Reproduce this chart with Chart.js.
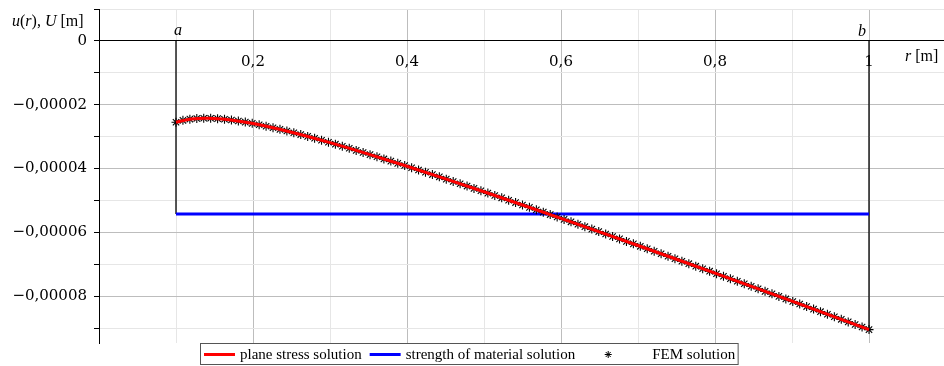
<!DOCTYPE html>
<html>
<head>
<meta charset="utf-8">
<script src="https://cdn.jsdelivr.net/npm/chart.js"></script>
<style>
    html, body { margin: 0; padding: 0; background: #fff; }
    canvas { display: block; }
</style>
</head>
<body>
<canvas id="grafico" width="944" height="366"></canvas>
<script>
// raio r [m] e deslocamento u(r) [m]
const rCurve = [0.10, 0.12, 0.14, 0.16, 0.18, 0.20, 0.25, 0.30, 0.35, 0.40, 0.45,
    0.50, 0.55, 0.60, 0.65, 0.70, 0.75, 0.80, 0.85, 0.90, 0.95, 1.00];
const uPlaneStress = [-2.550e-5, -2.446e-5, -2.422e-5, -2.448e-5, -2.508e-5, -2.590e-5,
    -2.862e-5, -3.189e-5, -3.550e-5, -3.930e-5, -4.325e-5, -4.730e-5, -5.143e-5,
    -5.562e-5, -5.985e-5, -6.413e-5, -6.845e-5, -7.280e-5, -7.718e-5, -8.160e-5,
    -8.604e-5, -9.050e-5];

// solução de resistência dos materiais (constante)
const rSom = [0.10, 1.00];
const uSom = [-5.43e-5, -5.43e-5];

// nós do MEF
const rFem = [0.100, 0.109, 0.118, 0.127, 0.136, 0.145, 0.154, 0.163, 0.172, 0.181,
    0.190, 0.199, 0.208, 0.217, 0.226, 0.235, 0.244, 0.253, 0.262, 0.271,
    0.280, 0.289, 0.298, 0.307, 0.316, 0.325, 0.334, 0.343, 0.352, 0.361,
    0.370, 0.379, 0.388, 0.397, 0.406, 0.415, 0.424, 0.433, 0.442, 0.451,
    0.460, 0.469, 0.478, 0.487, 0.496, 0.505, 0.514, 0.523, 0.532, 0.541,
    0.550, 0.559, 0.568, 0.577, 0.586, 0.595, 0.604, 0.613, 0.622, 0.631,
    0.640, 0.649, 0.658, 0.667, 0.676, 0.685, 0.694, 0.703, 0.712, 0.721,
    0.730, 0.739, 0.748, 0.757, 0.766, 0.775, 0.784, 0.793, 0.802, 0.811,
    0.820, 0.829, 0.838, 0.847, 0.856, 0.865, 0.874, 0.883, 0.892, 0.901,
    0.910, 0.919, 0.928, 0.937, 0.946, 0.955, 0.964, 0.973, 0.982, 0.991, 1.000];
const uFem = [-2.550e-5, -2.491e-5, -2.453e-5, -2.431e-5, -2.423e-5, -2.425e-5, -2.437e-5, -2.455e-5, -2.481e-5, -2.511e-5,
    -2.546e-5, -2.585e-5, -2.628e-5, -2.674e-5, -2.722e-5, -2.773e-5, -2.825e-5, -2.880e-5, -2.936e-5, -2.994e-5,
    -3.053e-5, -3.114e-5, -3.176e-5, -3.238e-5, -3.302e-5, -3.366e-5, -3.432e-5, -3.498e-5, -3.565e-5, -3.632e-5,
    -3.700e-5, -3.768e-5, -3.838e-5, -3.907e-5, -3.977e-5, -4.048e-5, -4.118e-5, -4.190e-5, -4.261e-5, -4.333e-5,
    -4.406e-5, -4.478e-5, -4.551e-5, -4.624e-5, -4.698e-5, -4.771e-5, -4.845e-5, -4.919e-5, -4.994e-5, -5.068e-5,
    -5.143e-5, -5.218e-5, -5.293e-5, -5.368e-5, -5.444e-5, -5.519e-5, -5.595e-5, -5.671e-5, -5.747e-5, -5.824e-5,
    -5.900e-5, -5.977e-5, -6.054e-5, -6.130e-5, -6.207e-5, -6.285e-5, -6.362e-5, -6.439e-5, -6.517e-5, -6.594e-5,
    -6.672e-5, -6.750e-5, -6.828e-5, -6.906e-5, -6.984e-5, -7.062e-5, -7.141e-5, -7.219e-5, -7.298e-5, -7.376e-5,
    -7.455e-5, -7.534e-5, -7.613e-5, -7.692e-5, -7.771e-5, -7.851e-5, -7.930e-5, -8.009e-5, -8.089e-5, -8.169e-5,
    -8.248e-5, -8.328e-5, -8.408e-5, -8.488e-5, -8.568e-5, -8.648e-5, -8.728e-5, -8.809e-5, -8.889e-5, -8.970e-5, -9.050e-5];

// raios interno (a) e externo (b)
const rBounds = [0.10, 1.00];
const boundLabels = ["a", "b"];

const seriesLabels = ["plane stress solution", "strength of material solution", "FEM solution"];

// marcas dos eixos
const xTicks = [0.1, 0.2, 0.3, 0.4, 0.5, 0.6, 0.7, 0.8, 0.9, 1.0];
const xTickLabels = ["", "0,2", "", "0,4", "", "0,6", "", "0,8", "", "1"];
const yTicks = [0.00001, 0, -0.00001, -0.00002, -0.00003, -0.00004, -0.00005,
    -0.00006, -0.00007, -0.00008, -0.00009];
const yTickLabels = ["", "0", "", "\u22120,00002", "", "\u22120,00004", "",
    "\u22120,00006", "", "\u22120,00008", ""];

const SERIF = '"Liberation Serif", "Times New Roman", serif';
const NUM = '"DejaVu Serif", serif';

function pares(xs, ys) {
    return xs.map((x, i) => ({ x: x, y: ys[i] }));
}

// títulos, rótulos a/b e legenda em caixa
const rotulos = {
    id: "rotulos",
    afterDraw(chart) {
        const ctx = chart.ctx;
        const xs = chart.scales.x;
        ctx.save();
        ctx.fillStyle = "#000";
        ctx.textBaseline = "alphabetic";

        // título do eixo y: u(r), U [m]
        let x = 12;
        const partes = [["u", true], ["(", false], ["r", true], ["), ", false], ["U", true], [" [m]", false]];
        partes.forEach(p => {
            ctx.font = (p[1] ? "italic " : "") + "16px " + SERIF;
            ctx.fillText(p[0], x, 26);
            x += ctx.measureText(p[0]).width;
        });

        // título do eixo x: r [m]
        ctx.font = "italic 16px " + SERIF;
        ctx.fillText("r", 905, 61);
        let w = ctx.measureText("r").width;
        ctx.font = "16px " + SERIF;
        ctx.fillText(" [m]", 905 + w, 61);

        // a e b
        ctx.font = "italic 16px " + SERIF;
        ctx.textAlign = "center";
        ctx.fillText(boundLabels[0], xs.getPixelForValue(rBounds[0]) + 2, 35);
        ctx.fillText(boundLabels[1], xs.getPixelForValue(rBounds[1]) - 7, 36);

        // legenda
        ctx.textAlign = "left";
        ctx.font = "15px " + SERIF;
        const itens = chart.data.datasets.filter(d => d.label);
        const top = 343.5, alto = 21, midY = 354.5;
        let px = 204;
        itens.forEach(d => {
            if (d.pointStyle === "star") {
                px += 10;
                ctx.strokeStyle = d.borderColor;
                ctx.lineWidth = 1;
                const cx = px + 15, r = 3.5;
                ctx.beginPath();
                for (let k = 0; k < 4; k++) {
                    const ang = k * Math.PI / 4;
                    ctx.moveTo(cx - r * Math.cos(ang), midY - r * Math.sin(ang));
                    ctx.lineTo(cx + r * Math.cos(ang), midY + r * Math.sin(ang));
                }
                ctx.stroke();
                ctx.fillText(d.label, px + 59, 359);
                px += 59 + ctx.measureText(d.label).width;
            } else {
                ctx.strokeStyle = d.borderColor;
                ctx.lineWidth = 3;
                ctx.beginPath();
                ctx.moveTo(px, midY);
                ctx.lineTo(px + 31, midY);
                ctx.stroke();
                ctx.fillText(d.label, px + 36, 359);
                px += 36 + ctx.measureText(d.label).width + 8;
            }
        });
        ctx.strokeStyle = "#555";
        ctx.lineWidth = 1;
        ctx.strokeRect(200.5, top, px + 3 - 200.5, alto);
        ctx.restore();
    }
};

const ctx = document.getElementById("grafico").getContext("2d");
new Chart(ctx, {
    type: "line",
    data: {
        datasets: [
            {
                label: seriesLabels[0],
                data: pares(rCurve, uPlaneStress),
                borderColor: "#ff0000",
                borderWidth: 3,
                pointRadius: 0,
                cubicInterpolationMode: "monotone",
                order: 0
            },
            {
                label: seriesLabels[1],
                data: pares(rSom, uSom),
                borderColor: "#0000ff",
                borderWidth: 3,
                pointRadius: 0,
                order: 2
            },
            {
                label: seriesLabels[2],
                data: pares(rFem, uFem),
                showLine: false,
                pointStyle: "star",
                pointRadius: 4.5,
                borderColor: "#000",
                borderWidth: 1.1,
                order: 1
            },
            {
                label: "",
                data: [{ x: rBounds[0], y: 0 }, { x: rBounds[0], y: uSom[0] }],
                borderColor: "#000",
                borderWidth: 1.3,
                pointRadius: 0,
                order: 3
            },
            {
                label: "",
                data: [{ x: rBounds[1], y: 0 }, { x: rBounds[1], y: uFem[uFem.length - 1] }],
                borderColor: "#000",
                borderWidth: 1.3,
                pointRadius: 0,
                order: 3
            }
        ]
    },
    options: {
        responsive: false,
        animation: false,
        devicePixelRatio: 1,
        layout: { autoPadding: false, padding: { top: 9, bottom: 23, left: 0, right: 0 } },
        plugins: {
            legend: { display: false },
            tooltip: { enabled: false }
        },
        scales: {
            x: {
                type: "linear",
                min: 0,
                max: 1.0974,
                position: { y: 0 },
                afterBuildTicks: s => { s.ticks = xTicks.map(v => ({ value: v })); },
                afterFit: s => { s.paddingLeft = 0; s.paddingRight = 0; s.paddingTop = 0; s.paddingBottom = 0; },
                ticks: {
                    autoSkip: false,
                    maxRotation: 0,
                    padding: 12,
                    color: "#000",
                    font: { family: NUM, size: 15 },
                    callback: (v, i) => xTickLabels[i]
                },
                grid: {
                    drawTicks: false,
                    lineWidth: 1,
                    color: c => (c.index !== undefined && xTickLabels[c.index]) ? "#bdbdbd" : "#e6e6e6"
                },
                border: { color: "#000", width: 1 }
            },
            y: {
                type: "linear",
                min: -9.47e-5,
                max: 1e-5,
                afterBuildTicks: s => { s.ticks = yTicks.map(v => ({ value: v })); },
                afterFit: s => { s.width = 99; s.paddingTop = 0; s.paddingBottom = 0; },
                ticks: {
                    autoSkip: false,
                    padding: 7,
                    color: "#000",
                    font: { family: NUM, size: 15 },
                    callback: (v, i) => yTickLabels[i]
                },
                grid: {
                    lineWidth: 1,
                    tickLength: 5,
                    tickColor: "#000",
                    color: c => (c.index !== undefined && yTickLabels[c.index]) ? "#bdbdbd" : "#e6e6e6"
                },
                border: { color: "#000", width: 1 }
            }
        }
    },
    plugins: [rotulos]
});
</script>
</body>
</html>
